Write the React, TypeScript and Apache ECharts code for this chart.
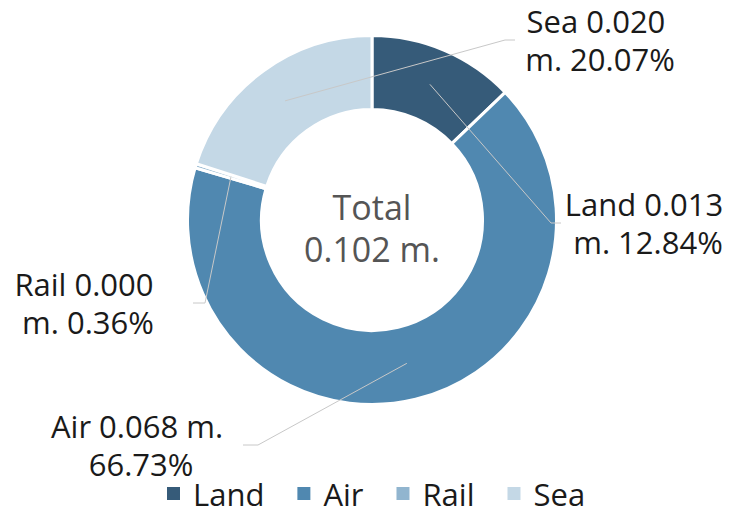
import React, { useEffect, useRef } from "react";
import * as echarts from "echarts";

// ---- data ----
const categories = ["Land", "Air", "Rail", "Sea"];
const values = [0.013097, 0.068065, 0.000367, 0.020471]; // millions
const colors = ["#365b79", "#5088b0", "#91b5cf", "#c4d8e6"];
const centerTitle = "Total";
const unit = "m.";

// ---- layout (px) ----
const CX = 372;
const CY = 220;
const R_IN = 110.5;
const R_OUT = 184.5;
const R_LINE = 147.5;
// label centre [x, y], bend x, end x of the leader line
const labelCenters = [
  [648, 223],
  [137, 445],
  [88, 303],
  [600, 40],
];
const lineBendX = [551, 258, 205, 505];
const lineEndX = [561, 243, 193, 515];

const FONT = "'Open Sans', sans-serif";

export default function App() {
  const ref = useRef<HTMLDivElement>(null);

  useEffect(() => {
    if (!ref.current) return;
    const chart = echarts.init(ref.current, undefined, { renderer: "svg" });
    const total = values.reduce((a, b) => a + b, 0);
    const midAngles = values.map((v, i) => {
      const before = values.slice(0, i).reduce((a, b) => a + b, 0);
      return ((before + v / 2) / total) * Math.PI * 2;
    });
    const data = categories.map((name, i) => ({
      name,
      value: values[i],
      itemStyle: { color: colors[i] },
    }));
    const labelData = categories.map((name, i) => ({ name, value: values[i] }));

    chart.setOption({
      animation: false,
      legend: {
        data: categories,
        left: 160,
        top: 470,
        padding: [5, 5, 0, 5],
        icon: "rect",
        itemWidth: 15,
        itemHeight: 15,
        itemGap: 31,
        textStyle: {
          fontFamily: FONT,
          fontSize: 31,
          color: "#1a1a1a",
          lineHeight: 31,
          padding: [0, 0, 6, 7],
        },
      },
      graphic: [
        {
          type: "text",
          x: CX,
          y: CY + 8,
          style: {
            text: `${centerTitle}\n${total.toFixed(3)} ${unit}`,
            fill: "#555555",
            fontFamily: FONT,
            fontSize: 34,
            lineHeight: 42,
            align: "center",
            verticalAlign: "middle",
          },
        },
      ],
      series: [
        {
          type: "pie",
          center: [CX, CY],
          radius: [R_IN, R_OUT],
          startAngle: 90,
          z: 2,
          label: { show: false },
          labelLine: { show: false },
          itemStyle: { borderColor: "#ffffff", borderWidth: 3 },
          emphasis: { disabled: true },
          data,
        },
        {
          type: "pie",
          center: [CX, CY],
          radius: [R_IN, R_OUT],
          startAngle: 90,
          z: 5,
          silent: true,
          emphasis: { disabled: true },
          itemStyle: { color: "rgba(0,0,0,0)" },
          label: {
            show: true,
            position: "outside",
            fontFamily: FONT,
            fontSize: 31,
            lineHeight: 38,
            color: "#1a1a1a",
            width: 176,
            overflow: "break",
            align: "center",
            formatter: (p: any) =>
              `${p.name} ${p.value.toFixed(3)} ${unit} ${p.percent.toFixed(2)}%`,
          },
          labelLine: {
            show: true,
            lineStyle: { color: "#c8c8c8", width: 1 },
          },
          labelLayout: (params: any) => {
            const i = params.dataIndex;
            const a = midAngles[i];
            const p0 = [CX + R_LINE * Math.sin(a), CY - R_LINE * Math.cos(a)];
            const [lx, ly] = labelCenters[i];
            return {
              x: lx,
              y: ly,
              align: "center",
              verticalAlign: "middle",
              labelLinePoints: [p0, [lineBendX[i], ly], [lineEndX[i], ly]],
            };
          },
          data: labelData,
        },
      ],
    });
    return () => chart.dispose();
  }, []);

  return (
    <div
      ref={ref}
      style={{ position: "absolute", left: 0, top: 0, width: 736, height: 513 }}
    />
  );
}
